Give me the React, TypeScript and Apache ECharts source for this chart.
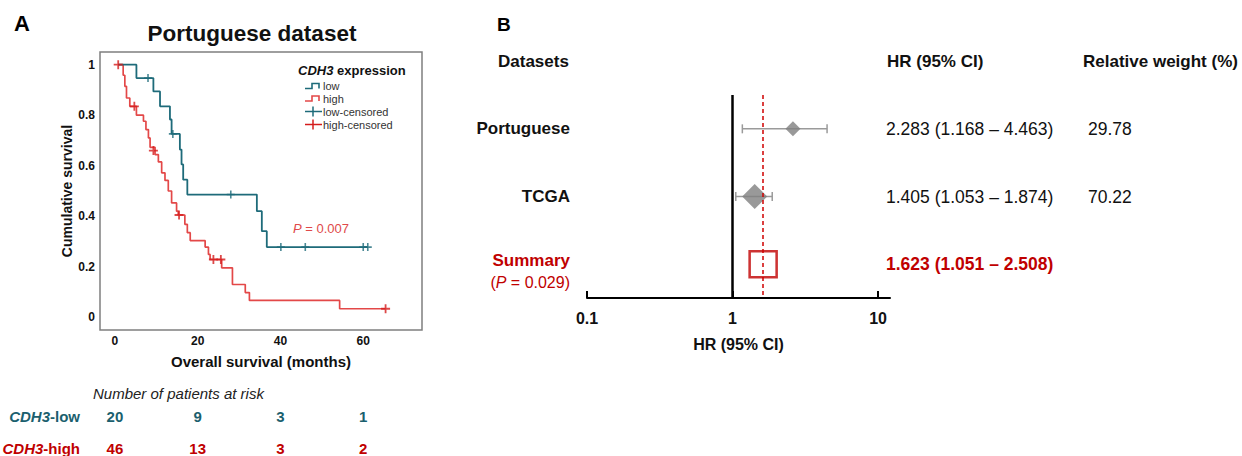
import React, { useEffect, useRef } from "react";
import * as echarts from "echarts";

const FONT = 'Arial, "Liberation Sans", Helvetica, sans-serif';
const TEAL = "#1e6b7a";
const TEAL_TXT = "#1b5f6e";
const RED_LINE = "#e34848";
const RED_CENS = "#d41c1c";
const RED_DARK = "#c00000";
const GREY = "#808080";

// ---------- Panel A: Kaplan-Meier (time in months, survival) ----------
const lowSteps: [number, number][] = [
  [0.8, 1], [5.2, 0.947], [9.3, 0.894], [10.9, 0.835], [13.3, 0.783], [13.7, 0.726],
  [15.7, 0.664], [16.1, 0.605], [16.5, 0.545], [17.5, 0.486], [34.3, 0.42], [35.5, 0.341],
  [36.7, 0.278], [61.1, 0.278],
];
const lowCensored: [number, number][] = [
  [8.0, 0.947], [14.0, 0.726], [28.0, 0.486], [40.1, 0.278], [46.0, 0.278], [60.0, 0.278], [61.1, 0.278],
];
const highSteps: [number, number][] = [
  [0.8, 1], [2.0, 0.958], [2.4, 0.914], [2.8, 0.868], [3.6, 0.835], [5.2, 0.8], [6.9, 0.776],
  [7.5, 0.743], [8.1, 0.71], [8.5, 0.673], [9.7, 0.644], [10.5, 0.615], [11.3, 0.572],
  [12.1, 0.542], [12.9, 0.5], [13.7, 0.453], [14.9, 0.42], [15.3, 0.405], [16.9, 0.368],
  [17.5, 0.335], [18.2, 0.304], [21.8, 0.278], [22.6, 0.249], [23.0, 0.229], [25.8, 0.196],
  [28.4, 0.13], [31.5, 0.098], [32.5, 0.067], [54.3, 0.034], [65.4, 0.034],
];
const highCensored: [number, number][] = [
  [0.8, 1], [4.7, 0.835], [9.3, 0.66], [15.5, 0.405], [23.8, 0.229], [25.6, 0.229], [65.4, 0.034],
];
const kmXTicks = [0, 20, 40, 60];
const kmYTicks = [0, 0.2, 0.4, 0.6, 0.8, 1];
const kmP = "0.007";

// risk table
const riskTimes = [0, 20, 40, 60];
const riskGroups = ["CDH3-low", "CDH3-high"];
const riskLow = [20, 9, 3, 1];
const riskHigh = [46, 13, 3, 2];

// ---------- Panel B: forest plot ----------
const datasets = ["Portuguese", "TCGA", "Summary"];
const hr = [2.283, 1.405, 1.623];
const hrLow = [1.168, 1.053, 1.051];
const hrHigh = [4.463, 1.874, 2.508];
const hrMarkerDrawn = [2.6, 1.42]; // marker positions as drawn in the figure
const weights = [29.78, 70.22];
const forestTicks = [0.1, 1, 10];
const summaryP = "0.029";

const KM_XMIN = -3.6;
const KM_XMAX = 74.2;

export default function App() {
  const ref = useRef<HTMLDivElement>(null);

  useEffect(() => {
    document.body.style.margin = "0";
    if (!ref.current) return;
    const chart = echarts.init(ref.current, null, { renderer: "svg" });

    const plus = "path://M4,0H6V4H10V6H6V10H4V6H0V4H4Z";
    const riskLabel = (color: string) => ({
      show: true, position: "inside", formatter: (p: any) => String(p.value[2]),
      fontSize: 15, fontWeight: "bold", color, fontFamily: FONT,
      textBorderWidth: 0, textBorderColor: "transparent", opacity: 1,
    });

    const option: any = {
      animation: false,
      backgroundColor: "#fff",
      textStyle: { fontFamily: FONT },
      grid: [
        { left: 100, top: 52, width: 322, height: 278, show: true, borderColor: "#7f7f7f", borderWidth: 1.5, backgroundColor: "transparent", outerBoundsMode: "none", containLabel: false },
        { left: 100, top: 400, width: 322, height: 64, outerBoundsMode: "none", containLabel: false },
        { left: 587, top: 95, width: 303, height: 203, outerBoundsMode: "none", containLabel: false },
      ],
      xAxis: [
        {
          type: "value", gridIndex: 0, min: KM_XMIN, max: KM_XMAX,
          axisLine: { show: false }, axisTick: { show: false }, splitLine: { show: false },
          axisLabel: { customValues: kmXTicks, margin: 5, fontSize: 12, fontWeight: "bold", color: "#111", fontFamily: FONT },
          name: "Overall survival (months)", nameLocation: "middle", nameGap: 24,
          nameTextStyle: { fontSize: 15, fontWeight: "bold", color: "#111", fontFamily: FONT },
        },
        { type: "value", gridIndex: 1, min: KM_XMIN, max: KM_XMAX, show: false },
        {
          type: "log", gridIndex: 2, min: 0.1, max: 12.08, logBase: 10,
          axisLine: { show: true, lineStyle: { color: "#000", width: 2 } },
          axisTick: { show: true, inside: true, length: 7, lineStyle: { color: "#000", width: 2 }, customValues: forestTicks },
          axisLabel: {
            customValues: forestTicks, margin: 12, fontSize: 16, fontWeight: "bold", color: "#111", fontFamily: FONT,
            formatter: (v: number) => String(+Number(v).toPrecision(3)),
          },
          splitLine: { show: false }, minorTick: { show: false },
          name: "HR (95% CI)", nameLocation: "middle", nameGap: 38,
          nameTextStyle: { fontSize: 16, fontWeight: "bold", color: "#111", fontFamily: FONT },
        },
      ],
      yAxis: [
        {
          type: "value", gridIndex: 0, min: -0.05, max: 1.05,
          axisLine: { show: false }, axisTick: { show: false }, splitLine: { show: false },
          axisLabel: {
            customValues: kmYTicks, margin: 5, fontSize: 12, fontWeight: "bold", color: "#111", fontFamily: FONT,
            formatter: (v: number) => String(+Number(v).toFixed(1)),
          },
          name: "Cumulative survival", nameLocation: "middle", nameGap: 23, nameRotate: 90,
          nameTextStyle: { fontSize: 14, fontWeight: "bold", color: "#111", fontFamily: FONT },
        },
        {
          type: "category", gridIndex: 1, data: riskGroups, inverse: true,
          axisLine: { show: false }, axisTick: { show: false }, splitLine: { show: false },
          axisLabel: {
            margin: 20,
            formatter: (v: string) => {
              const [g, lvl] = v.split("-");
              return v === riskGroups[0] ? `{ti|${g}}{tb|-${lvl}}` : `{ri|${g}}{rb|-${lvl}}`;
            },
            rich: {
              ti: { fontSize: 15, fontStyle: "italic", fontWeight: "bold", color: TEAL_TXT, fontFamily: FONT },
              tb: { fontSize: 15, fontWeight: "bold", color: TEAL_TXT, fontFamily: FONT },
              ri: { fontSize: 15, fontStyle: "italic", fontWeight: "bold", color: RED_DARK, fontFamily: FONT },
              rb: { fontSize: 15, fontWeight: "bold", color: RED_DARK, fontFamily: FONT },
            },
          },
        },
        {
          type: "category", gridIndex: 2, data: datasets, inverse: true,
          axisLine: { show: false }, axisTick: { show: false }, splitLine: { show: false },
          axisLabel: {
            margin: 17,
            formatter: (v: string) =>
              v === "Summary" ? `{s|${v}}\n{p|(}{pi|P}{p| = ${summaryP})}` : `{b|${v}}`,
            rich: {
              b: { fontSize: 17, fontWeight: "bold", color: "#111", fontFamily: FONT },
              s: { fontSize: 17, fontWeight: "bold", color: RED_DARK, fontFamily: FONT, lineHeight: 36 },
              p: { fontSize: 16, color: RED_DARK, fontFamily: FONT, lineHeight: 8 },
              pi: { fontSize: 16, fontStyle: "italic", color: RED_DARK, fontFamily: FONT, lineHeight: 8 },
            },
          },
        },
        {
          type: "category", gridIndex: 2, data: datasets, inverse: true, position: "right",
          axisLine: { show: false }, axisTick: { show: false }, splitLine: { show: false },
          axisLabel: {
            margin: -4, align: "left",
            formatter: (_v: string, i: number) => {
              const t = `${hr[i].toFixed(3)} (${hrLow[i].toFixed(3)} – ${hrHigh[i].toFixed(3)})`;
              return i === 2 ? `{s|${t}}` : `{n|${t}}`;
            },
            rich: {
              n: { fontSize: 17.5, color: "#111", fontFamily: FONT },
              s: { fontSize: 17.5, fontWeight: "bold", color: RED_DARK, fontFamily: FONT },
            },
          },
        },
        {
          type: "category", gridIndex: 2, data: datasets, inverse: true, position: "right", offset: 198,
          axisLine: { show: false }, axisTick: { show: false }, splitLine: { show: false },
          axisLabel: {
            margin: 0, align: "left", fontSize: 17.5, color: "#111", fontFamily: FONT,
            formatter: (_v: string, i: number) => (i < weights.length ? weights[i].toFixed(2) : ""),
          },
        },
      ],
      series: [
        {
          type: "line", xAxisIndex: 0, yAxisIndex: 0, data: lowSteps, step: "end", symbol: "none",
          lineStyle: { color: TEAL, width: 1.8 }, z: 3,
        },
        {
          type: "line", xAxisIndex: 0, yAxisIndex: 0, data: highSteps, step: "end", symbol: "none",
          lineStyle: { color: RED_LINE, width: 1.7 }, z: 2,
        },
        {
          type: "scatter", xAxisIndex: 0, yAxisIndex: 0, data: lowCensored, symbol: plus, symbolSize: 8,
          itemStyle: { color: TEAL }, z: 4,
        },
        {
          type: "scatter", xAxisIndex: 0, yAxisIndex: 0, data: highCensored, symbol: plus, symbolSize: 9,
          itemStyle: { color: RED_CENS }, z: 4,
        },
        {
          type: "scatter", xAxisIndex: 1, yAxisIndex: 1, symbolSize: 0, itemStyle: { color: "#fff", opacity: 0 },
          data: riskTimes.map((t, i) => [t, riskGroups[0], riskLow[i]]),
          label: riskLabel(TEAL_TXT),
        },
        {
          type: "scatter", xAxisIndex: 1, yAxisIndex: 1, symbolSize: 0, itemStyle: { color: "#fff", opacity: 0 },
          data: riskTimes.map((t, i) => [t, riskGroups[1], riskHigh[i]]),
          label: riskLabel(RED_DARK),
        },
        {
          type: "custom", xAxisIndex: 2, yAxisIndex: 2, z: 2,
          data: weights.map((_w, i) => [hrLow[i], hrHigh[i], i]),
          encode: { x: [0, 1], y: 2 },
          renderItem: (_params: any, api: any) => {
            const a = api.coord([api.value(0), api.value(2)]);
            const b = api.coord([api.value(1), api.value(2)]);
            const st = { stroke: "#9a9a9a", lineWidth: 1.5 };
            return {
              type: "group",
              children: [
                { type: "line", shape: { x1: a[0], y1: a[1], x2: b[0], y2: b[1] }, style: st },
                { type: "line", shape: { x1: a[0], y1: a[1] - 4.5, x2: a[0], y2: a[1] + 4.5 }, style: st },
                { type: "line", shape: { x1: b[0], y1: b[1] - 4.5, x2: b[0], y2: b[1] + 4.5 }, style: st },
              ],
            };
          },
        },
        {
          type: "scatter", xAxisIndex: 2, yAxisIndex: 2, z: 1,
          symbol: "rect", symbolSize: [27, 26],
          itemStyle: { color: "rgba(0,0,0,0)", borderColor: RED_DARK, borderWidth: 2.5 },
          data: [[hr[2], datasets[2]]],
          markLine: {
            silent: true, symbol: "none", label: { show: false },
            data: [
              { xAxis: 1, lineStyle: { color: "#000", width: 2.5, type: "solid" } },
              { xAxis: hr[2], lineStyle: { color: "#d00000", width: 1.5, type: [4, 3] } },
            ],
          },
        },
        {
          type: "scatter", xAxisIndex: 2, yAxisIndex: 2, z: 3, symbol: "diamond",
          itemStyle: { color: GREY },
          data: [
            { value: [hrMarkerDrawn[0], datasets[0]], symbolSize: [15, 15] },
            { value: [hrMarkerDrawn[1], datasets[1]], symbolSize: [25, 25] },
          ],
        },
      ],
      graphic: [
        { type: "text", left: 14, top: 12, style: { text: "A", font: `bold 22px ${FONT}`, fill: "#000" } },
        { type: "text", left: 497, top: 15, style: { text: "B", font: `bold 19px ${FONT}`, fill: "#000" } },
        {
          type: "text", x: 252, y: 33,
          style: { text: "Portuguese dataset", font: `bold 22.5px ${FONT}`, fill: "#111", align: "center", verticalAlign: "middle" },
        },
        // legend
        {
          type: "text", x: 298, y: 70,
          style: {
            text: "{i|CDH3}{b| expression}", verticalAlign: "middle",
            rich: {
              i: { font: `italic bold 13px ${FONT}`, fill: "#111" },
              b: { font: `bold 13px ${FONT}`, fill: "#111" },
            },
          },
        },
        { type: "polyline", shape: { points: [[305, 88.5], [312, 88.5], [312, 83.5], [319, 83.5], [319, 88.5]] }, style: { stroke: TEAL, lineWidth: 1.6, fill: "none" } },
        { type: "polyline", shape: { points: [[305, 101], [312, 101], [312, 96], [319, 96], [319, 101]] }, style: { stroke: RED_LINE, lineWidth: 1.6, fill: "none" } },
        { type: "line", shape: { x1: 305, y1: 111.5, x2: 322, y2: 111.5 }, style: { stroke: TEAL, lineWidth: 1.5 } },
        { type: "line", shape: { x1: 313, y1: 106.5, x2: 313, y2: 116.5 }, style: { stroke: TEAL, lineWidth: 1.5 } },
        { type: "line", shape: { x1: 305, y1: 124.5, x2: 322, y2: 124.5 }, style: { stroke: RED_CENS, lineWidth: 1.5 } },
        { type: "line", shape: { x1: 313, y1: 119.5, x2: 313, y2: 129.5 }, style: { stroke: RED_CENS, lineWidth: 1.5 } },
        { type: "text", x: 323, y: 86, style: { text: "low", font: `11px ${FONT}`, fill: "#333", verticalAlign: "middle" } },
        { type: "text", x: 323, y: 98.5, style: { text: "high", font: `11px ${FONT}`, fill: "#333", verticalAlign: "middle" } },
        { type: "text", x: 323, y: 111.5, style: { text: "low-censored", font: `11px ${FONT}`, fill: "#333", verticalAlign: "middle" } },
        { type: "text", x: 323, y: 124.5, style: { text: "high-censored", font: `11px ${FONT}`, fill: "#333", verticalAlign: "middle" } },
        {
          type: "text", x: 293, y: 228,
          style: {
            text: `{i|P}{n| = ${kmP}}`, verticalAlign: "middle",
            rich: {
              i: { font: `italic 13px ${FONT}`, fill: "#e04a4a" },
              n: { font: `13px ${FONT}`, fill: "#e04a4a" },
            },
          },
        },
        {
          type: "text", x: 93, y: 393,
          style: { text: "Number of patients at risk", font: `italic 15px ${FONT}`, fill: "#222", verticalAlign: "middle" },
        },
        // panel B headers
        { type: "text", x: 498, y: 61, style: { text: "Datasets", font: `bold 17px ${FONT}`, fill: "#111", verticalAlign: "middle" } },
        { type: "text", x: 887, y: 61, style: { text: "HR (95% CI)", font: `bold 17px ${FONT}`, fill: "#111", verticalAlign: "middle" } },
        { type: "text", x: 1083, y: 61, style: { text: "Relative weight (%)", font: `bold 17px ${FONT}`, fill: "#111", verticalAlign: "middle" } },
      ],
    };

    chart.setOption(option);
    return () => chart.dispose();
  }, []);

  return <div ref={ref} style={{ width: 1242, height: 456 }} />;
}
